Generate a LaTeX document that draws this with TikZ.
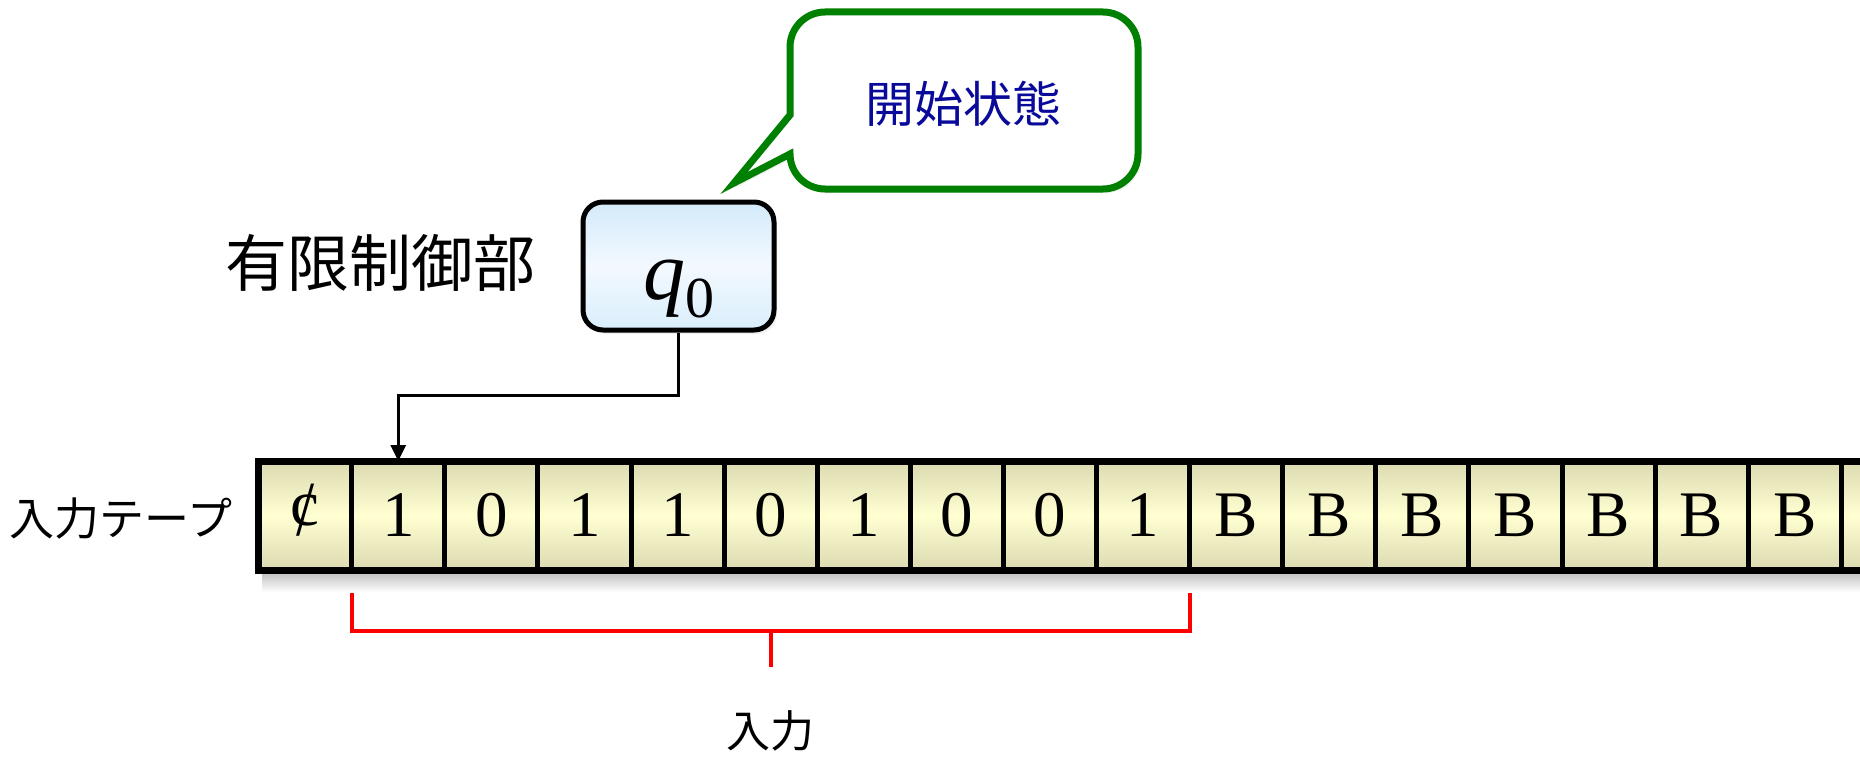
\documentclass[tikz,border=0pt]{standalone}
\usepackage{fontspec}
\setmainfont{Liberation Serif}
\newfontfamily\jp{Noto Sans CJK JP}
\usetikzlibrary{arrows.meta,shadows}
\definecolor{tapeedge}{HTML}{DCDAB0}
\definecolor{tapemid}{HTML}{FFFFD2}
\definecolor{qtop}{HTML}{D3EAFA}
\definecolor{qmid}{HTML}{F3F9FE}
\definecolor{qbot}{HTML}{D9EEFC}
\definecolor{bubblegreen}{HTML}{008000}
\definecolor{bubbletext}{HTML}{0A0A9A}
\newcommand{\centsym}{\ooalign{\hfil c\hfil\cr\hfil\raisebox{-0.16em}{\scalebox{1}[1.2]{/}}\hfil\cr}}
\begin{document}
\begin{tikzpicture}[x=1pt,y=-1pt,
  cellbox/.style={draw=black, line width=5pt, minimum width=93.1pt, minimum height=109pt,
    inner sep=0pt, outer sep=0pt, anchor=north west,
    top color=tapeedge, bottom color=tapeedge, middle color=tapemid,
    font=\fontsize{65}{65}\selectfont},
  statebox/.style={draw=black, line width=5pt, rounded corners=20pt,
    minimum width=191pt, minimum height=128pt, inner sep=0pt,
    top color=qtop, bottom color=qbot, middle color=qmid,
    text height=66pt, text depth=0pt,
    drop shadow={opacity=0.12, shadow xshift=3pt, shadow yshift=-4pt}},
  jplabel/.style={font=\jp\fontsize{#1}{#1}\selectfont, inner sep=0pt},
  conn/.style={draw=black, line width=3pt, -{Triangle[length=16pt,width=15pt]}},
  bracketline/.style={draw=red, line width=4pt},
  bubble/.style={draw=bubblegreen, line width=7pt, fill=white,
    drop shadow={opacity=0.12, shadow xshift=3pt, shadow yshift=-4pt}}
]
\path[use as bounding box] (0,0) rectangle (1860,757);
\begin{scope}
\clip (0,0) rectangle (1860,757);
% tape shadow
\shade[top color=black!28, bottom color=white] (262,570) rectangle (1860,592);
% tape cells
\foreach \t [count=\i from 0] in {\centsym,1,0,1,1,0,1,0,0,1,B,B,B,B,B,B,B,{}} {
  \node[cellbox] (c\i) at ({258.6+\i*93.1},461) {\t};
}
\draw[line width=7pt] (c0.north west) rectangle (c17.south east);
\end{scope}

% labels
\node[jplabel=45] (tapelabel) at (121,519) {入力テープ};
\node[jplabel=62] (fclabel) at (380,263) {有限制御部};

% state box
\node[statebox] (q0) at (678.5,266) {\fontsize{84}{84}\selectfont\textit{q}\raisebox{-18pt}{\fontsize{58}{58}\selectfont 0}};

% connector from state to tape head position
\draw[conn] (q0.south) -- ++(0,63) -| (c1.north);

% speech bubble
\draw[bubble] (734,183) -- (790,115) -- (790,47)
  .. controls (790,27.7) and (805.7,12) .. (825,12) -- (1103,12)
  .. controls (1122.3,12) and (1138,27.7) .. (1138,47) -- (1138,154)
  .. controls (1138,173.3) and (1122.3,189) .. (1103,189) -- (825,189)
  .. controls (805.7,189) and (790,173.3) .. (790,154) -- cycle;
\node[jplabel=49, text=bubbletext] (start) at (963,104) {開始状態};

% input bracket
\draw[bracketline] (351.7,593) -- (351.7,631) -- (1189.6,631) -- (1189.6,593);
\draw[bracketline] (770.6,631) -- (770.6,667);
\node[jplabel=44] (inlabel) at (770,731) {入力};
\end{tikzpicture}
\end{document}
